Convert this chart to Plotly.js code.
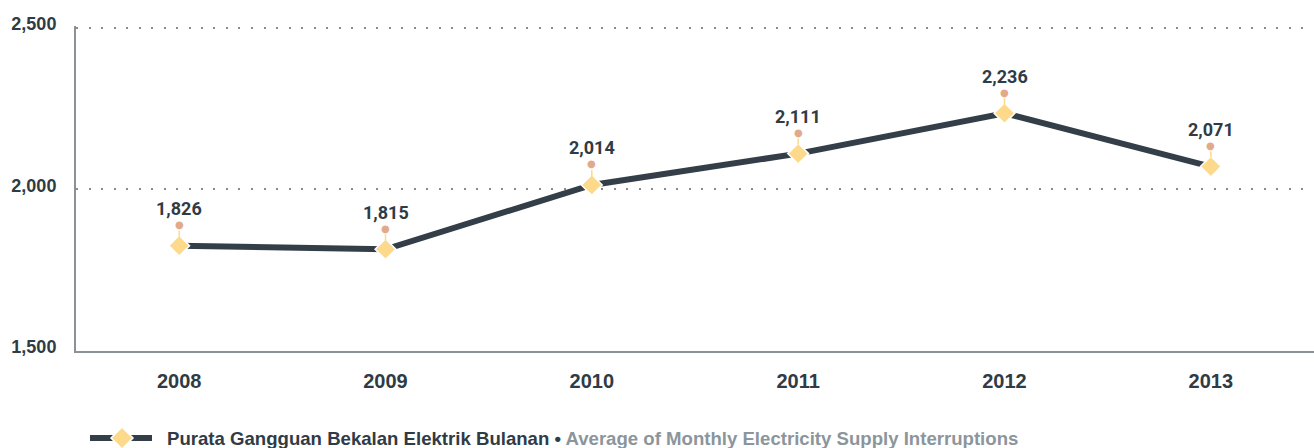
<!DOCTYPE html>
<html>
<head>
<meta charset="utf-8">
<script src="https://cdn.plot.ly/plotly-3.0.1.min.js"></script>
<style>html,body{margin:0;padding:0;background:#fff;}#chart{width:1314px;height:448px;}</style>
</head>
<body>
<div id="chart"></div>
<script>
const years = ['2008', '2009', '2010', '2011', '2012', '2013'];
const interruptions = [1826, 1815, 2014, 2111, 2236, 2071];
const yTicks = [1500, 2000, 2500];
const legendMalay = 'Purata Gangguan Bekalan Elektrik Bulanan';
const legendEnglish = 'Average of Monthly Electricity Supply Interruptions';

const dark = '#2f3b45';
const lineCol = '#333e48';
const diamondCol = '#fdd98c';
const dotCol = '#e2a98b';
const axisCol = '#8b9297';
const grey = '#8c959b';

const trace = {
  x: years, y: interruptions, type: 'scatter', mode: 'lines+markers',
  line: {color: lineCol, width: 6},
  marker: {symbol: 'diamond', size: 16, color: diamondCol, line: {color: '#ffffff', width: 1.5}},
  hoverinfo: 'skip', showlegend: false, cliponaxis: false
};

const annotations = [];
years.forEach((yr, i) => {
  annotations.push({
    x: i, y: interruptions[i], xref: 'x', yref: 'y',
    text: '\u25CF', font: {size: 10, color: dotCol, family: 'DejaVu Sans'},
    showarrow: true, arrowhead: 0, arrowwidth: 1.5, arrowcolor: diamondCol,
    ax: 0, ay: -21, standoff: 9, borderpad: 0
  });
  annotations.push({
    x: i, y: interruptions[i], xref: 'x', yref: 'y',
    text: '<b>' + interruptions[i].toLocaleString('en-US') + '</b>',
    font: {size: 18, color: dark, family: 'Roboto'},
    showarrow: false, yshift: 37
  });
});
annotations.push({
  xref: 'paper', yref: 'paper', x: 0.0719, y: -0.2693, xanchor: 'left', yanchor: 'middle',
  showarrow: false,
  text: '<b>' + legendMalay + ' \u2022 </b><span style="color:' + grey + '"><b>' + legendEnglish + '</b></span>',
  font: {size: 18.6, color: dark, family: 'Liberation Sans'}
});

const shapes = [
  {type: 'line', xref: 'paper', yref: 'paper', xsizemode: 'pixel', ysizemode: 'pixel',
   xanchor: 0, yanchor: 0, x0: 14, x1: 76, y0: -87, y1: -87,
   line: {color: lineCol, width: 6}},
  {type: 'path', xref: 'paper', yref: 'paper', xsizemode: 'pixel', ysizemode: 'pixel',
   xanchor: 0, yanchor: 0, path: 'M35,-87 L46,-76 L57,-87 L46,-98 Z',
   fillcolor: diamondCol, line: {color: '#ffffff', width: 1.5}}
];

const layout = {
  width: 1314, height: 448,
  margin: {l: 76, r: 0, t: 26, b: 97},
  paper_bgcolor: '#ffffff', plot_bgcolor: '#ffffff',
  showlegend: false,
  xaxis: {
    type: 'category', range: [-0.5, 5.5], showgrid: false, zeroline: false,
    showline: true, linecolor: axisCol, linewidth: 2, ticks: '',
    tickfont: {size: 20, color: dark, family: 'Liberation Sans', weight: 'bold'},
    ticklabelstandoff: 11
  },
  yaxis: {
    range: [1500, 2506], tickvals: yTicks, ticktext: yTicks.map(v => v.toLocaleString('en-US')),
    showgrid: true, gridcolor: '#8a8a8a', gridwidth: 2, griddash: '2px,10.5px',
    zeroline: false, showline: true, linecolor: axisCol, linewidth: 2, ticks: '',
    tickfont: {size: 18, color: dark, family: 'Liberation Sans', weight: 'bold'},
    ticklabelstandoff: 14, ticklabelshift: -4
  },
  annotations: annotations,
  shapes: shapes
};

Plotly.newPlot('chart', [trace], layout, {staticPlot: true, displayModeBar: false});
</script>
</body>
</html>
